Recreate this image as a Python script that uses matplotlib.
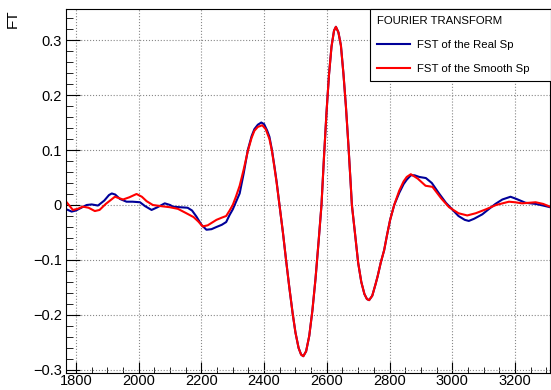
import numpy as np
import matplotlib.pyplot as plt
from matplotlib.ticker import MultipleLocator, FuncFormatter

plt.rcParams['font.family'] = ['Liberation Sans', 'DejaVu Sans']

# FST of the Real Sp
x_real = [1770, 1786, 1800, 1820, 1834, 1850, 1870, 1890, 1905, 1914, 1925, 1940, 1961, 1980,
          2004, 2020, 2041, 2060, 2083, 2100, 2109, 2130, 2156, 2170, 2184, 2200, 2216, 2232,
          2248, 2265, 2279, 2290, 2300, 2306, 2322, 2335, 2348, 2360, 2369, 2380, 2391, 2400,
          2410, 2417, 2425, 2433, 2440, 2449, 2460, 2470, 2480, 2491, 2500, 2510, 2518, 2525,
          2534, 2544, 2554, 2564, 2574, 2583, 2591, 2599, 2607, 2615, 2623, 2629, 2637, 2645,
          2653, 2661, 2669, 2675, 2680, 2690, 2700, 2710, 2720, 2728, 2735, 2745, 2755, 2762,
          2772, 2783, 2792, 2802, 2815, 2831, 2845, 2855, 2868, 2880, 2895, 2916, 2935, 2958,
          2980, 3000, 3020, 3040, 3053, 3070, 3096, 3120, 3138, 3160, 3186, 3205, 3234, 3250,
          3266, 3290, 3312]
y_real = [-0.008, -0.012, -0.010, -0.004, 0.000, 0.001, -0.001, 0.008, 0.018, 0.021, 0.019, 0.011,
          0.006, 0.006, 0.005, -0.002, -0.009, -0.004, 0.003, 0.000, -0.003, -0.004, -0.005, -0.010,
          -0.021, -0.036, -0.045, -0.044, -0.040, -0.036, -0.031, -0.018, -0.008, 0.000, 0.021,
          0.058, 0.100, 0.125, 0.138, 0.146, 0.150, 0.147, 0.135, 0.124, 0.100, 0.070, 0.042,
          0.000, -0.050, -0.100, -0.148, -0.197, -0.232, -0.260, -0.272, -0.275, -0.266, -0.238,
          -0.192, -0.134, -0.065, 0.000, 0.087, 0.168, 0.237, 0.288, 0.317, 0.324, 0.314, 0.290,
          0.239, 0.179, 0.108, 0.050, 0.000, -0.052, -0.105, -0.140, -0.162, -0.171, -0.173,
          -0.165, -0.145, -0.130, -0.105, -0.082, -0.055, -0.027, 0.000, 0.022, 0.038, 0.046,
          0.054, 0.054, 0.051, 0.049, 0.040, 0.021, 0.004, -0.008, -0.020, -0.027, -0.029, -0.025,
          -0.017, -0.006, 0.002, 0.010, 0.015, 0.011, 0.004, 0.003, 0.002, -0.001, -0.004]

# FST of the Smooth Sp
x_smooth = [1770, 1790, 1805, 1822, 1840, 1860, 1875, 1895, 1924, 1950, 1970, 1993, 2010, 2025,
            2045, 2070, 2099, 2125, 2152, 2175, 2190, 2204, 2220, 2248, 2265, 2279, 2290, 2300,
            2310, 2322, 2335, 2348, 2360, 2369, 2380, 2394, 2405, 2417, 2425, 2433, 2440, 2449,
            2460, 2470, 2480, 2491, 2500, 2510, 2518, 2525, 2534, 2544, 2554, 2564, 2574, 2583,
            2591, 2599, 2607, 2615, 2623, 2629, 2637, 2645, 2653, 2661, 2669, 2675, 2680, 2690,
            2700, 2710, 2720, 2728, 2735, 2745, 2755, 2762, 2772, 2783, 2792, 2802, 2815, 2831,
            2845, 2855, 2868, 2890, 2915, 2937, 2965, 2990, 3020, 3048, 3075, 3107, 3140, 3181,
            3200, 3223, 3245, 3266, 3290, 3312]
y_smooth = [0.005, -0.009, -0.007, -0.003, -0.005, -0.011, -0.009, 0.002, 0.015, 0.010, 0.014,
            0.020, 0.015, 0.007, 0.000, -0.002, -0.004, -0.007, -0.015, -0.022, -0.030, -0.039,
            -0.037, -0.027, -0.023, -0.020, -0.010, 0.000, 0.015, 0.035, 0.065, 0.098, 0.122,
            0.135, 0.142, 0.145, 0.138, 0.120, 0.098, 0.068, 0.040, 0.000, -0.050, -0.100, -0.148,
            -0.197, -0.232, -0.260, -0.272, -0.275, -0.266, -0.238, -0.192, -0.134, -0.065, 0.000,
            0.087, 0.168, 0.237, 0.288, 0.317, 0.324, 0.314, 0.290, 0.239, 0.179, 0.108, 0.050,
            0.000, -0.052, -0.105, -0.140, -0.162, -0.171, -0.173, -0.165, -0.145, -0.130, -0.105,
            -0.082, -0.055, -0.027, 0.000, 0.026, 0.043, 0.051, 0.056, 0.048, 0.035, 0.033, 0.012,
            -0.004, -0.015, -0.019, -0.015, -0.008, 0.000, 0.006, 0.005, 0.003, 0.004, 0.005,
            0.002, -0.003]

fig = plt.figure(figsize=(5.51, 3.90), dpi=100)
ax = fig.add_axes([66 / 551, 17 / 390, 484 / 551, 364 / 390])

ax.plot(x_real, y_real, color='#000099', lw=1.5, label='FST of the Real Sp')
ax.plot(x_smooth, y_smooth, color='#ff0000', lw=1.5, label='FST of the Smooth Sp')

ax.set_xlim(1768, 3312)
ax.set_ylim(-0.3055, 0.3564)

ax.xaxis.set_major_locator(MultipleLocator(200))
ax.xaxis.set_minor_locator(MultipleLocator(50))
ax.yaxis.set_major_locator(MultipleLocator(0.1))
ax.yaxis.set_minor_locator(MultipleLocator(0.02))

def fmt(v, pos):
    s = '%g' % round(v, 3)
    return s.replace('-', '\u2212')

ax.yaxis.set_major_formatter(FuncFormatter(fmt))
ax.tick_params(axis='both', which='both', direction='in', labelsize=10.5, top=False, right=False)
ax.tick_params(axis='y', which='major', length=10, pad=3)
ax.tick_params(axis='y', which='minor', length=5)
ax.tick_params(axis='x', which='major', length=8, pad=1)
ax.tick_params(axis='x', which='minor', length=4)

ax.grid(True, which='major', linestyle=':', color='#888888', lw=0.8)
ax.set_axisbelow(True)

ax.set_ylabel('FT', fontsize=11)
ax.yaxis.set_label_coords(-0.095, 1.0)
ax.yaxis.label.set_horizontalalignment('right')

# legend box: x 370..551 px, y 9..78 px
leg = ax.legend(loc='upper left', bbox_to_anchor=(0.628, 0.81, 0.374, 0.19), mode='expand',
                title='FOURIER TRANSFORM', fontsize=8.2, title_fontsize=8.2, alignment='left',
                frameon=True, fancybox=False, edgecolor='black', framealpha=1, borderaxespad=0,
                handlelength=2.9, handletextpad=0.6, labelspacing=1.25, borderpad=0.6)
leg.get_frame().set_linewidth(0.8)

fig.savefig('out.png', dpi=100)
